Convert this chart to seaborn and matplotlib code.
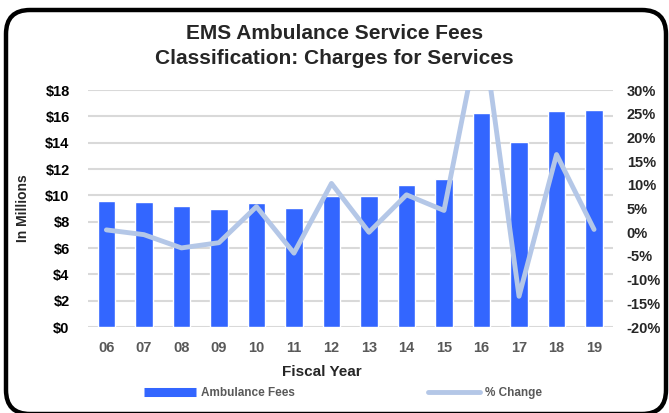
import numpy as np
import pandas as pd
import matplotlib
matplotlib.use("Agg")
import matplotlib.pyplot as plt
import seaborn as sns
from matplotlib.patches import FancyBboxPatch
from matplotlib.lines import Line2D

# data
years = ["06", "07", "08", "09", "10", "11", "12", "13", "14", "15", "16", "17", "18", "19"]
fees = [9.55, 9.5, 9.18, 8.98, 9.46, 9.06, 9.99, 9.99, 10.78, 11.28, 16.28, 14.08, 16.38, 16.48]
pct_change = [0.5, -0.5, -3.3, -2.2, 5.4, -4.4, 10.3, 0.0, 7.9, 4.6, 44.5, -13.5, 16.4, 0.6]

left_ticks = [0, 2, 4, 6, 8, 10, 12, 14, 16, 18]
right_ticks = [-20, -15, -10, -5, 0, 5, 10, 15, 20, 25, 30]

bar_color = "#3366FF"
line_color = "#B4C7E7"

sns.set_style("white")
plt.rcParams["font.family"] = ["Liberation Sans", "DejaVu Sans"]

df = pd.DataFrame({"year": years, "fees": fees, "pct": pct_change})

fig = plt.figure(figsize=(6.69, 4.13), dpi=100)
ax = fig.add_axes([0.131, 0.208, 0.785, 0.574])

sns.barplot(data=df, x="year", y="fees", color=bar_color, width=0.47,
            saturation=1, ax=ax, zorder=2)
ax.set_ylim(0, 18)
ax.set_xlim(-0.5, 13.5)
ax.set_yticks(left_ticks)
ax.set_yticklabels([f"${t}" for t in left_ticks])
ax.grid(axis="y", color="#D9D9D9", linewidth=1.5, zorder=0)
ax.set_axisbelow(True)
for s in ax.spines.values():
    s.set_visible(False)
ax.tick_params(axis="y", length=0, pad=13, labelsize=10.5, labelcolor="black")
ax.tick_params(axis="x", length=0, pad=10, labelsize=10.5, labelcolor="#595959")
for lbl in ax.get_xticklabels() + ax.get_yticklabels():
    lbl.set_fontweight("bold")
ax.set_xlabel("")
ax.set_ylabel("In Millions", fontsize=10, fontweight="bold", labelpad=11)

ax2 = ax.twinx()
sns.lineplot(x=np.arange(len(years)), y=pct_change, color=line_color,
             linewidth=3.5, ax=ax2, zorder=3)
ax2.set_ylim(-20, 30)
ax2.set_yticks(right_ticks)
ax2.set_yticklabels([f"{t}%" for t in right_ticks])
for s in ax2.spines.values():
    s.set_visible(False)
ax2.tick_params(axis="y", length=0, pad=10, labelsize=10.5)
for lbl in ax2.get_yticklabels():
    lbl.set_fontweight("bold")

fig.suptitle("EMS Ambulance Service Fees\nClassification: Charges for Services",
             x=0.5, y=0.943, fontsize=15, fontweight="bold", linespacing=1.42)
fig.text(322 / 669, 1 - 372 / 413, "Fiscal Year", ha="center", va="center",
         fontsize=11, fontweight="bold")

handles = [Line2D([], [], color=bar_color, linewidth=6.5, solid_capstyle="butt"),
           Line2D([], [], color=line_color, linewidth=3.5, solid_capstyle="round")]
leg = fig.legend(handles, ["Ambulance Fees", "% Change"], ncol=2, frameon=False,
                 loc="center left", bbox_to_anchor=(144 / 669, 1 - 393 / 413),
                 borderaxespad=0, borderpad=0, fontsize=8.5, handlelength=4.4,
                 handletextpad=0.4, columnspacing=11.3)
for t in leg.get_texts():
    t.set_color("#595959")
    t.set_fontweight("bold")

border = FancyBboxPatch((0.06, -0.01), 6.60, 4.04,
                        boxstyle="round,pad=0,rounding_size=0.24",
                        transform=fig.dpi_scale_trans, fill=False,
                        edgecolor="black", linewidth=3.2, zorder=10)
fig.patches.append(border)

fig.savefig("out.png", dpi=100)
